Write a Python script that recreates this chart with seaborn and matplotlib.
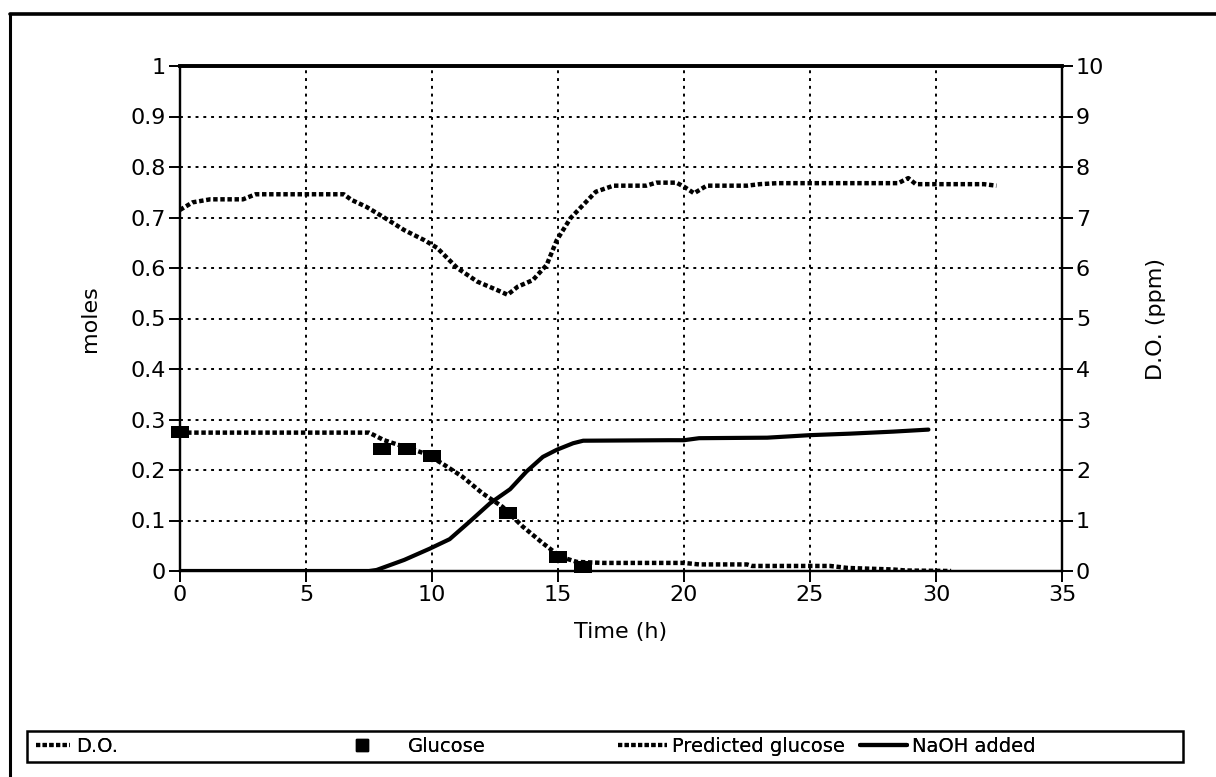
import numpy as np
import pandas as pd
import matplotlib
matplotlib.use("Agg")
import matplotlib.pyplot as plt
from matplotlib.lines import Line2D
from matplotlib.patches import Rectangle
from matplotlib.path import Path
import seaborn as sns

# ---------------- data ----------------
do_time = [0.0, 0.5, 1.2, 2.5, 3.0, 5.0, 6.5, 6.8, 7.4, 8.1, 8.9, 9.7, 10.2, 11.0,
           11.8, 12.6, 13.0, 13.4, 14.0, 14.55, 14.95, 15.5, 16.0, 16.5, 17.2, 18.5,
           18.9, 19.7, 20.0, 20.4, 20.9, 22.5, 23.0, 23.7, 28.5, 28.9, 29.2, 31.9, 32.4]
do_ppm = [7.15, 7.3, 7.36, 7.36, 7.46, 7.46, 7.46, 7.35, 7.21, 7.0, 6.75, 6.55, 6.4, 6.0,
          5.73, 5.56, 5.47, 5.63, 5.76, 6.06, 6.55, 6.99, 7.25, 7.51, 7.63, 7.63,
          7.69, 7.69, 7.61, 7.48, 7.63, 7.63, 7.66, 7.68, 7.68, 7.78, 7.66, 7.66, 7.63]

glucose_time = [0.0, 8.0, 9.0, 10.0, 13.0, 15.0, 16.0]
glucose_moles = [0.275, 0.242, 0.242, 0.228, 0.115, 0.028, 0.008]

pred_time = [0.0, 7.5, 8.1, 8.9, 9.7, 10.4, 11.2, 12.0, 12.8, 13.6, 14.4, 15.1, 15.75,
             16.8, 20.0, 20.6, 22.5, 22.7, 25.8, 26.5, 28.3, 28.8, 30.6]
pred_moles = [0.274, 0.274, 0.259, 0.246, 0.233, 0.213, 0.187, 0.154, 0.127, 0.088,
              0.055, 0.028, 0.018, 0.016, 0.016, 0.013, 0.013, 0.010, 0.010, 0.006,
              0.003, 0.001, 0.0]

naoh_time = [0.0, 7.5, 7.8, 8.9, 9.9, 10.7, 11.5, 12.3, 13.1, 13.75, 14.4, 14.95, 15.6,
             16.0, 19.4, 20.0, 20.6, 23.3, 25.0, 26.6, 28.3, 29.7]
naoh_moles = [0.0, 0.0, 0.002, 0.022, 0.044, 0.063, 0.098, 0.134, 0.162, 0.197, 0.226,
              0.240, 0.253, 0.258, 0.259, 0.259, 0.263, 0.264, 0.269, 0.272, 0.276, 0.280]

x_ticks = [0, 5, 10, 15, 20, 25, 30, 35]
left_ticks = [0, 0.1, 0.2, 0.3, 0.4, 0.5, 0.6, 0.7, 0.8, 0.9, 1]
left_labels = ["0", "0.1", "0.2", "0.3", "0.4", "0.5", "0.6", "0.7", "0.8", "0.9", "1"]
right_ticks = [0, 1, 2, 3, 4, 5, 6, 7, 8, 9, 10]

labels = ["D.O.", "Glucose", "Predicted glucose", "NaOH added"]

# ---------------- style ----------------
sns.set_style("ticks")
plt.rcParams["font.family"] = ["DejaVu Sans"]
plt.rcParams["axes.edgecolor"] = "black"
plt.rcParams["axes.labelcolor"] = "black"
plt.rcParams["xtick.color"] = "black"
plt.rcParams["ytick.color"] = "black"
plt.rcParams["text.color"] = "black"

W, H = 1216, 777
fig = plt.figure(figsize=(W / 100, H / 100), dpi=100)
fig.patch.set_facecolor("white")

left, right, top, bottom = 180, 1062, 66, 571
ax = fig.add_axes([left / W, 1 - bottom / H, (right - left) / W, (bottom - top) / H])
ax2 = ax.twinx()

dotted = (0, (1.0, 0.6))
rect_marker = Path([(-1.4, -1.0), (1.4, -1.0), (1.4, 1.0), (-1.4, 1.0), (-1.4, -1.0)],
                   [Path.MOVETO, Path.LINETO, Path.LINETO, Path.LINETO, Path.CLOSEPOLY])

sns.lineplot(x=pred_time, y=pred_moles, ax=ax, color="black", lw=3.2,
             linestyle=dotted, label=labels[2], legend=False, sort=False)
sns.lineplot(x=naoh_time, y=naoh_moles, ax=ax, color="black", lw=3.0,
             label=labels[3], legend=False, sort=False)
sns.scatterplot(x=glucose_time, y=glucose_moles, ax=ax, color="black", marker=rect_marker,
                s=160, edgecolor="black", linewidth=0, label=labels[1], legend=False,
                zorder=5, clip_on=False)
sns.lineplot(x=do_time, y=do_ppm, ax=ax2, color="black", lw=3.2,
             linestyle=dotted, label=labels[0], legend=False, sort=False)

ax.set_xlim(0, 35)
ax.set_ylim(0, 1)
ax2.set_ylim(0, 10)
ax.set_xticks(x_ticks)
ax.set_yticks(left_ticks)
ax.set_yticklabels(left_labels)
ax2.set_yticks(right_ticks)

ax.grid(True, color="black", linestyle=(0, (1.5, 2.5)), lw=1.4)
ax.set_axisbelow(True)

for a in (ax, ax2):
    for s in a.spines.values():
        s.set_linewidth(1.6)
        s.set_color("black")
    a.spines["top"].set_linewidth(2.6)
    a.tick_params(labelsize=16, length=8, width=1.4, direction="out", pad=2)

ax.set_xlabel("Time (h)", fontsize=16, labelpad=12)
ax.set_ylabel("moles", fontsize=16, labelpad=22)
ax2.set_ylabel("D.O. (ppm)", fontsize=16, labelpad=30)

# ---------------- outer frame ----------------
fig.add_artist(Line2D([10 / W, 10 / W], [0, 1 - 14 / H], transform=fig.transFigure,
                      color="black", lw=2.2))
fig.add_artist(Line2D([10 / W, 1], [1 - 14 / H, 1 - 14 / H], transform=fig.transFigure,
                      color="black", lw=2.6))

# ---------------- legend ----------------
lx0, lx1, ly0, ly1 = 27, 1183, 731, 762
fig.add_artist(Rectangle((lx0 / W, 1 - ly1 / H), (lx1 - lx0) / W, (ly1 - ly0) / H,
                         transform=fig.transFigure, fill=False, edgecolor="black", lw=1.8))

h_do = Line2D([], [], color="black", lw=3.0, linestyle=(0, (1.0, 0.6)))
h_gl = Line2D([], [], color="black", marker="s", markersize=9, linestyle="none")
h_pg = Line2D([], [], color="black", lw=3.0, linestyle=(0, (1.0, 0.6)))
h_na = Line2D([], [], color="black", lw=3.0)
entries = [(h_do, labels[0], 36, 1.75, 0.3), (h_gl, labels[1], 346, 1.6, 1.6),
           (h_pg, labels[2], 618, 2.5, 0.3), (h_na, labels[3], 860, 2.4, 0.3)]
yc = 1 - ((ly0 + ly1) / 2) / H
for h, lab, xpx, hl, tp in entries:
    lg = fig.legend([h], [lab], loc="center left", bbox_to_anchor=(xpx / W, yc),
                    frameon=False, fontsize=14, handlelength=hl, handletextpad=tp,
                    borderpad=0, borderaxespad=0)
    fig.add_artist(lg)

fig.savefig("out.png", dpi=100, facecolor="white")
